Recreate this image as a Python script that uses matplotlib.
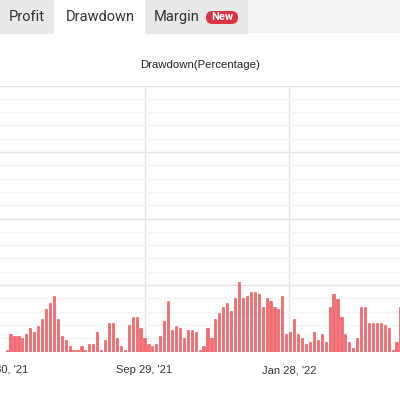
import matplotlib
matplotlib.use("Agg")
import matplotlib.pyplot as plt
from matplotlib.patches import Rectangle, FancyBboxPatch
import numpy as np

# ---- data (drawdown %, one bar per period) ----
drawdown = [
    0.08, 1.35, 1.13, 1.13, 0.98, 1.28, 1.73, 1.50, 1.95, 2.41,
    3.23, 3.61, 4.21, 2.41, 1.20, 0.90, 0.38, 0.15, 0.08, 0.38,
    0.08, 0.60, 0.53, 1.43, 0.15, 0.90, 2.18, 2.18, 0.98, 0.38,
    0.08, 2.03, 2.63, 2.63, 1.73, 1.05, 0.60, 0.38, 0.53, 1.20,
    2.33, 3.76, 1.58, 1.95, 1.73, 1.05, 1.58, 1.58, 1.50, 0.15,
    0.38, 1.73, 0.98, 2.48, 2.93, 3.38, 3.68, 3.01, 4.06, 5.26,
    4.06, 4.21, 4.51, 4.44, 4.36, 3.38, 4.06, 3.76, 3.38, 3.23,
    4.21, 1.28, 1.50, 2.48, 1.28, 1.05, 0.60, 0.68, 1.43, 0.83,
    1.35, 0.68, 3.38, 4.29, 3.98, 2.56, 1.35, 0.75, 0.30, 1.05,
    3.38, 3.38, 2.18, 2.18, 2.11, 2.11, 2.03, 1.73, 0.08, 0.68,
    3.38,
]
tick_positions = [-1.68, 35.02, 71.72]
tick_labels = ["May 30, '21", "Sep 29, '21", "Jan 28, '22"]
tabs = ["Profit", "Drawdown", "Margin"]
title = "Drawdown(Percentage)"

W, H = 400, 396
fig = plt.figure(figsize=(W / 100, H / 100), dpi=100)
fig.patch.set_facecolor("white")

def fx(px):
    return px / W

def fy(py):
    return 1 - py / H

# ---- tab bar ----
fig.patches.append(Rectangle((0, fy(33)), 1, 33 / H, transform=fig.transFigure,
                             facecolor="#f5f5f5", edgecolor="none", zorder=0))
tab_geom = [(0, 54, "#e8e8e8"), (54, 145, "white"), (145, 248, "#e8e8e8")]
for (x0, x1, c) in tab_geom:
    fig.patches.append(Rectangle((fx(x0), fy(34)), fx(x1 - x0), 34 / H,
                                 transform=fig.transFigure, facecolor=c,
                                 edgecolor="none", zorder=1))
tab_centers = [27, 100, 177]
for name, cx in zip(tabs, tab_centers):
    fig.text(fx(cx), fy(17), name, ha="center", va="center", fontsize=10.5,
             family=["Roboto", "DejaVu Sans"], color="#333333", zorder=3)
fig.patches.append(FancyBboxPatch((fx(206), fy(24)), fx(32), 13 / H,
                                  boxstyle="round,pad=0,rounding_size=0.016",
                                  transform=fig.transFigure, facecolor="#d9333f",
                                  edgecolor="none", zorder=2))
fig.text(fx(222), fy(17.5), "New", ha="center", va="center", fontsize=8,
         fontweight="bold", family=["Roboto", "DejaVu Sans"], color="white", zorder=3)

# ---- title ----
fig.text(0.5, fy(65), title, ha="center", va="center", fontsize=8.2,
         family=["Liberation Sans", "DejaVu Sans"], color="#222222")

# ---- chart ----
top_px, base_px = 85.5, 351.5
ax = fig.add_axes([0, fy(base_px), 1, (base_px - top_px) / H])
x = np.arange(len(drawdown))
ax.bar(x, drawdown, width=0.55, color="#f26b70", edgecolor="#ea4d53",
       linewidth=0.4, zorder=3)
ax.set_xlim(-0.679, 99.87)
ax.set_ylim(0, 20)

ax.set_yticks(np.arange(0, 21, 5))
ax.set_yticks(np.arange(0, 21, 1), minor=True)
ax.grid(axis="y", which="major", color="#e4e4e4", linewidth=1, zorder=1)
ax.grid(axis="y", which="minor", color="#f4f4f4", linewidth=1, zorder=0)
ax.set_xticks(tick_positions)
ax.set_xticklabels(tick_labels, fontsize=8, color="#333333",
                   family=["Liberation Sans", "DejaVu Sans"])
for t in tick_positions:
    if ax.get_xlim()[0] < t < ax.get_xlim()[1]:
        ax.axvline(t, color="#e4e4e4", linewidth=1, zorder=1)
ax.tick_params(axis="x", length=0, pad=10)
ax.tick_params(axis="y", which="both", length=0, labelleft=False)
for s in ax.spines.values():
    s.set_visible(False)
ax.set_facecolor("white")

fig.savefig("out.png", dpi=100, facecolor="white")
